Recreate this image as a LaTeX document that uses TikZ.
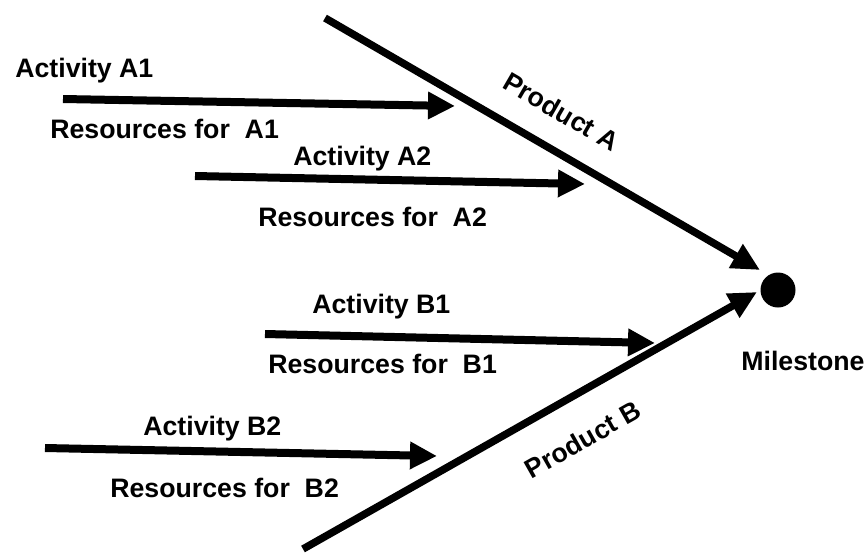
\documentclass[tikz,border=0pt]{standalone}
\usepackage{fontspec}
\setmainfont{Liberation Sans}
\usetikzlibrary{arrows.meta}

\begin{document}
\begin{tikzpicture}[
    x=0.02cm, y=-0.02cm,
    lbl/.style={font=\fontsize{15.2}{18}\selectfont\bfseries, inner sep=0pt,
               anchor=base west},
    plbl/.style={font=\fontsize{15.2}{18}\selectfont\bfseries, inner sep=0pt},
    act/.style={line width=0.16cm, -{Triangle[length=0.54cm, width=0.52cm]}},
    prod/.style={line width=0.15cm, -{Triangle[length=0.56cm, width=0.52cm]}},
    dot/.style={circle, fill=black, minimum size=0.7cm, inner sep=0pt}
]
\useasboundingbox (0,0) rectangle (865,552);

% arrow end points (picture pixels, y downwards)
\coordinate (a1s) at (63,99);   \coordinate (a1e) at (455,106);
\coordinate (a2s) at (195,176); \coordinate (a2e) at (585,184);
\coordinate (b1s) at (265,334); \coordinate (b1e) at (655,343);
\coordinate (b2s) at (45,448);  \coordinate (b2e) at (437,456);
\coordinate (pAs) at (325,18);  \coordinate (pAe) at (760,270);
\coordinate (pBs) at (303,549); \coordinate (pBe) at (757,292);

% milestone
\node[dot] (ms) at (778,290) {};
\node[lbl] (mslbl) at (741,370) {Milestone};

% product A branch
\node[lbl] (actA1) at (15,77)  {Activity A1};
\node[lbl] (resA1) at (50,138) {Resources for~~A1};
\node[lbl] (actA2) at (293,165) {Activity A2};
\node[lbl] (resA2) at (258,226) {Resources for~~A2};
\draw[act] (a1s) -- (a1e);
\draw[act] (a2s) -- (a2e);

% product B branch
\node[lbl] (actB1) at (312,313) {Activity B1};
\node[lbl] (resB1) at (268,373) {Resources for~~B1};
\node[lbl] (actB2) at (143,435) {Activity B2};
\node[lbl] (resB2) at (110,497) {Resources for~~B2};
\draw[act] (b1s) -- (b1e);
\draw[act] (b2s) -- (b2e);

% the two products run into the milestone
\draw[prod] (pAs) -- node[plbl, pos=0.5, sloped, above=0.48cm] (pA) {Product A} (pAe);
\draw[prod] (pBs) -- node[plbl, pos=0.57, sloped, below=0.58cm] (pB) {Product B} (pBe);

\end{tikzpicture}
\end{document}
